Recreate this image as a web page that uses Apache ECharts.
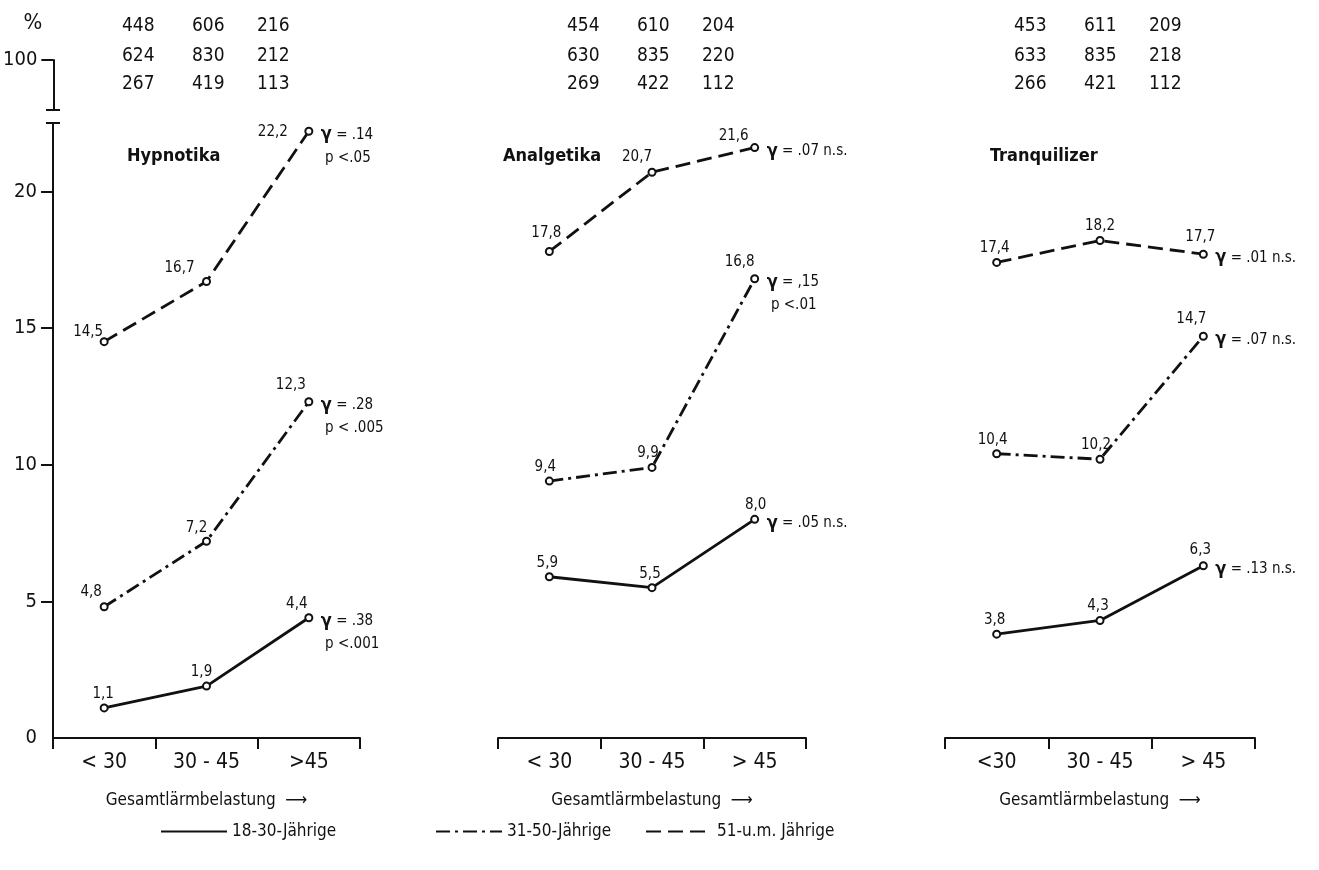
<!DOCTYPE html>
<html>
<head>
<meta charset="utf-8">
<script src="https://cdn.jsdelivr.net/npm/echarts@6/dist/echarts.min.js"></script>
<style>
  html, body { margin: 0; padding: 0; background: #fff; }
  #main { width: 1319px; height: 870px; }
</style>
</head>
<body>
<div id="main"></div>
<script>
// data
var panelNames = ["Hypnotika", "Analgetika", "Tranquilizer"]
var seriesNames = ["18-30-Jährige", "31-50-Jährige", "51-u.m. Jährige"]
var categoriesHyp = ["< 30", "30 - 45", ">45"]
var categoriesAna = ["< 30", "30 - 45", "> 45"]
var categoriesTra = ["<30", "30 - 45", "> 45"]

// rows: 18-30, 31-50, 51+
var hypnotika = [[1.1, 1.9, 4.4], [4.8, 7.2, 12.3], [14.5, 16.7, 22.2]]
var analgetika = [[5.9, 5.5, 8.0], [9.4, 9.9, 16.8], [17.8, 20.7, 21.6]]
var tranquilizer = [[3.8, 4.3, 6.3], [10.4, 10.2, 14.7], [17.4, 18.2, 17.7]]

// case counts printed above each panel
var countsHyp = [[448, 606, 216], [624, 830, 212], [267, 419, 113]]
var countsAna = [[454, 610, 204], [630, 835, 220], [269, 422, 112]]
var countsTra = [[453, 611, 209], [633, 835, 218], [266, 421, 112]]

// gamma notes next to last point of each line
var gammaHyp = [["= .38", "p <.001"], ["= .28", "p < .005"], ["= .14", "p <.05"]]
var gammaAna = [["= .05 n.s."], ["= ,15", "p <.01"], ["= .07 n.s."]]
var gammaTra = [["= .13 n.s."], ["= .07 n.s."], ["= .01 n.s."]]

var yTicks = [0, 5, 10, 15, 20]
var yTopTicks = [100]

// layout
var FONT = "'DejaVu Sans Condensed', 'Liberation Sans Narrow', 'Roboto Condensed', 'DejaVu Sans', sans-serif"
var INK = "#111"
var panelLeft = [53, 498, 945]
var panelWidth = [307, 308, 310]
var plotTop = 123
var plotBottom = 738
var titleLeft = [122, 498, 985]
var countLeft = [69, 139, 204]
var countRowY = [28, 58, 86]
var legendLeft = [155, 430, 640]
var lineTypes = ["solid", [14, 5, 3, 5], [15, 7]]
var labelShift = [
  [[-1, 0], [-5, 0], [-12, 0]],
  [[-13, -1], [-10, 1], [-18, -3]],
  [[-16, 4], [-27, 1], [-36, 15]]
]
var labelShift2 = [
  [[-2, 0], [-2, 0], [1, 0]],
  [[-4, 0], [-4, 0], [-15, -3]],
  [[-3, -4], [-15, -1], [-21, 3]]
]
var labelShift3 = [
  [[-2, 0], [-2, 0], [-3, -2]],
  [[-4, 0], [-4, 0], [-12, -3]],
  [[-2, 0], [0, 0], [-3, -3]]
]

var values = [hypnotika, analgetika, tranquilizer]
var counts = [countsHyp, countsAna, countsTra]
var gammas = [gammaHyp, gammaAna, gammaTra]
var categories = [categoriesHyp, categoriesAna, categoriesTra]
var shifts = [labelShift, labelShift2, labelShift3]

var chartDom = document.getElementById("main")
var myChart = echarts.init(chartDom)

var grids = []
var xAxes = []
var yAxes = []
var series = []
var titles = []
var graphics = []

for (var p = 0; p < 3; p++) {
  grids.push({
    left: panelLeft[p],
    width: panelWidth[p],
    top: plotTop,
    height: plotBottom - plotTop
  })
  xAxes.push({
    type: "category",
    gridIndex: p,
    data: categories[p],
    boundaryGap: true,
    axisLine: { show: true, lineStyle: { color: INK, width: 2 } },
    axisTick: { show: true, inside: false, length: 11, lineStyle: { color: INK, width: 2 } },
    axisLabel: { fontFamily: FONT, fontSize: 21, color: INK, margin: 14 },
    name: "Gesamtlärmbelastung  ⟶",
    nameLocation: "middle",
    nameGap: 54,
    nameTextStyle: { fontFamily: FONT, fontSize: 17, color: INK }
  })
  yAxes.push({
    type: "value",
    gridIndex: p,
    min: 0,
    max: 22.5,
    show: p === 0,
    splitLine: { show: false },
    axisLine: { show: true, lineStyle: { color: INK, width: 2 } },
    axisTick: { show: true, length: 12, customValues: yTicks.slice(1), lineStyle: { color: INK, width: 2 } },
    axisLabel: { customValues: yTicks, fontFamily: FONT, fontSize: 20, color: INK, margin: 16 }
  })
  titles.push({
    text: panelNames[p],
    left: titleLeft[p],
    top: 142,
    textStyle: { fontFamily: FONT, fontSize: 18, fontWeight: "bold", color: INK }
  })
  for (var r = 0; r < 3; r++) {
    for (var c = 0; c < 3; c++) {
      graphics.push({
        type: "text",
        left: panelLeft[p] + countLeft[c],
        top: countRowY[r] - 11,
        style: { text: String(counts[p][r][c]), font: "19px " + FONT, fill: INK }
      })
    }
  }
  for (var s = 0; s < 3; s++) {
    var vals = values[p][s]
    var g = gammas[p][s]
    var gText = "{g|γ}{t| " + g[0] + "}" + (g[1] ? "\n{t| " + g[1] + "}" : "")
    series.push({
      name: seriesNames[s],
      type: "line",
      xAxisIndex: p,
      yAxisIndex: p,
      data: vals.map(function (v, i) {
        return { value: v, label: { offset: shifts[p][s][i] } }
      }),
      symbol: "emptyCircle",
      symbolSize: 7,
      lineStyle: { color: INK, width: 2.8, type: lineTypes[s] },
      itemStyle: { color: INK, borderWidth: 1.6 },
      emphasis: { disabled: true },
      label: {
        show: true,
        position: "top",
        distance: 2,
        fontFamily: FONT,
        fontSize: 15,
        color: INK,
        formatter: function (d) {
          return d.value.toFixed(1).replace(".", ",")
        }
      },
      markPoint: {
        symbol: "circle",
        symbolSize: 0,
        silent: true,
        data: [{ coord: [2, vals[2]] }],
        label: {
          show: true,
          position: [12, -8],
          align: "left",
          verticalAlign: "top",
          formatter: gText,
          rich: {
            g: { fontFamily: FONT, fontSize: 18, fontWeight: "bold", color: INK, lineHeight: 23 },
            t: { fontFamily: FONT, fontSize: 15, color: INK, lineHeight: 23 }
          }
        }
      }
    })
  }
}

// upper piece of the broken y axis (100 %)
grids.push({ left: panelLeft[0], width: 10, top: 60, height: 50 })
xAxes.push({ type: "category", gridIndex: 3, data: [""], show: false })
yAxes.push({
  type: "value",
  gridIndex: 3,
  min: 0,
  max: 100,
  splitLine: { show: false },
  axisLine: { show: true, lineStyle: { color: INK, width: 2 } },
  axisTick: { show: true, length: 12, customValues: yTopTicks, lineStyle: { color: INK, width: 2 } },
  axisLabel: { customValues: yTopTicks, fontFamily: FONT, fontSize: 20, color: INK, margin: 16 },
  name: "%",
  nameLocation: "end",
  nameGap: 26,
  nameTextStyle: { fontFamily: FONT, fontSize: 22, color: INK, align: "right", padding: [0, 11, 0, 0] }
})

var option = {
  animation: false,
  backgroundColor: "#fff",
  title: titles,
  grid: grids,
  xAxis: xAxes,
  yAxis: yAxes,
  legend: seriesNames.map(function (n, i) {
    return {
      data: [n],
      left: legendLeft[i],
      top: 818,
      itemWidth: 66,
      itemHeight: 12,
      selectedMode: false,
      itemStyle: { opacity: 0 },
      textStyle: { fontFamily: FONT, fontSize: 17, color: INK }
    }
  }),
  series: series,
  graphic: graphics
}

option && myChart.setOption(option)

// crossbars of the axis break
var axisX = panelLeft[0]
var yLow = myChart.convertToPixel({ yAxisIndex: 0 }, 22.5)
var yHigh = myChart.convertToPixel({ yAxisIndex: 3 }, 0)
myChart.setOption({
  graphic: graphics.concat([
    { type: "line", shape: { x1: axisX - 7, y1: yLow, x2: axisX + 7, y2: yLow }, style: { stroke: INK, lineWidth: 2 } },
    { type: "line", shape: { x1: axisX - 7, y1: yHigh, x2: axisX + 7, y2: yHigh }, style: { stroke: INK, lineWidth: 2 } }
  ])
})
</script>
</body>
</html>
